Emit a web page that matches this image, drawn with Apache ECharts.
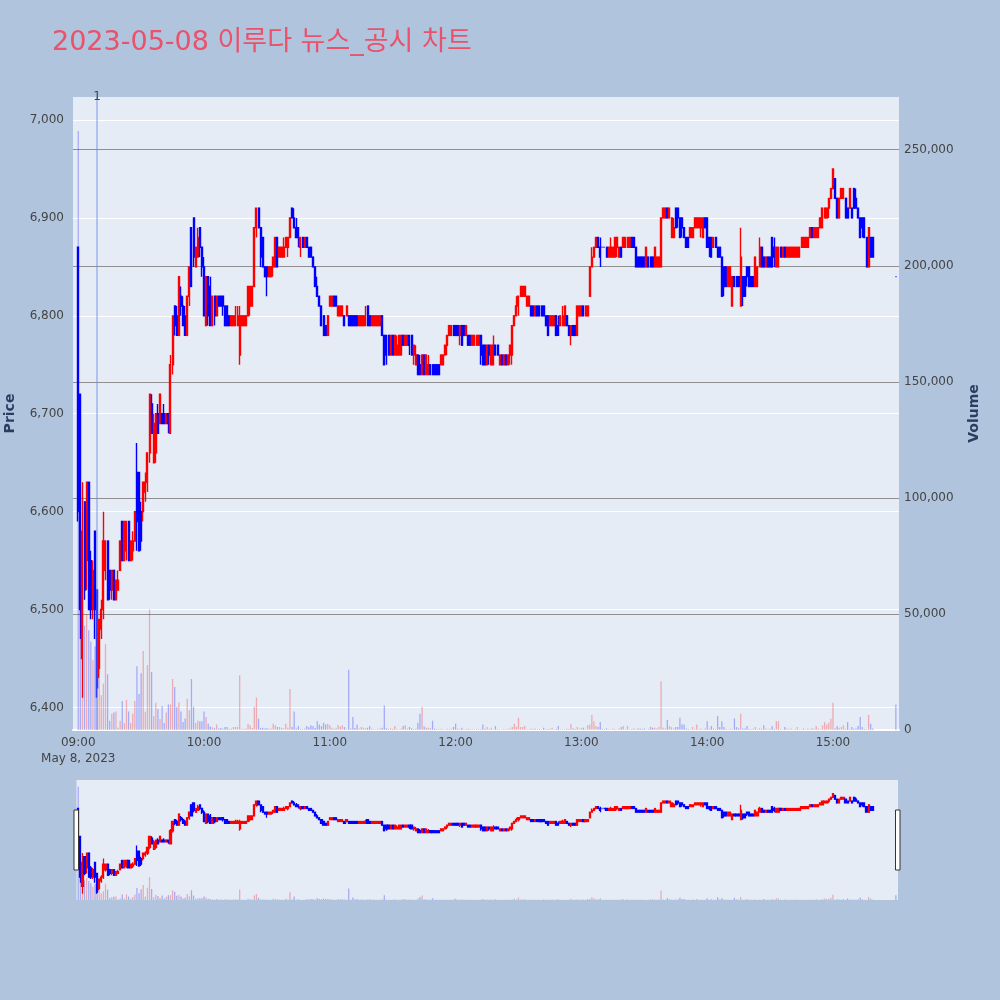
<!DOCTYPE html>
<html>
<head>
<meta charset="utf-8">
<script src="https://cdn.jsdelivr.net/npm/echarts/dist/echarts.min.js"></script>
<style>
html,body{margin:0;padding:0;background:#b0c4de;}
#chart{width:1000px;height:1000px;}
</style>
</head>
<body>
<div id="chart"></div>
<script>
// ---- DATA (1-minute candles, [open, close, low, high]) ----
const titleText = '2023-05-08 이루다 뉴스_공시 차트';
const dateLabel = 'May 8, 2023';
const newsTimes = ['09:09'];
const newsLabels = ['1'];

const ohlc09 = [
 [6870,6600,6590,6870],[6720,6500,6470,6720],[6450,6580,6410,6630],[6610,6520,6510,6610],[6550,6630,6520,6630],
 [6630,6500,6500,6630],[6550,6500,6490,6560],[6500,6540,6490,6550],[6580,6500,6470,6580],[6520,6420,6410,6520],
 [6440,6490,6430,6490],[6480,6500,6470,6510],[6500,6570,6490,6600],[6540,6570,6530,6570],[6570,6510,6510,6570],
 [6540,6520,6510,6540],[6520,6540,6510,6540],[6540,6510,6510,6540],[6510,6530,6510,6530],[6520,6530,6520,6540],
 [6540,6570,6540,6570],[6590,6550,6550,6590],[6550,6590,6550,6590],[6560,6590,6550,6590],[6590,6550,6550,6590],
 [6550,6570,6550,6570],[6560,6570,6550,6580],[6570,6600,6570,6600],[6640,6590,6560,6670],[6640,6560,6560,6640],
 [6600,6570,6560,6610],[6600,6630,6590,6630],[6620,6630,6610,6640],[6630,6660,6620,6660],[6660,6720,6650,6720],
 [6710,6680,6680,6720],[6650,6690,6650,6700],[6660,6700,6650,6700],[6700,6680,6680,6710],[6690,6720,6690,6720],
 [6700,6690,6690,6700],[6700,6690,6690,6710],[6690,6700,6690,6700],[6700,6690,6680,6700],[6680,6750,6680,6760],
 [6750,6800,6740,6800],[6810,6790,6780,6810],[6800,6780,6780,6810],[6780,6840,6780,6840],[6820,6810,6800,6830],
 [6810,6790,6790,6820],[6800,6780,6780,6810],[6780,6820,6780,6820],[6820,6850,6810,6850],[6890,6830,6830,6890],
 [6900,6860,6850,6900],[6850,6870,6850,6870],[6860,6880,6860,6890],[6890,6870,6860,6890],[6870,6850,6840,6870]
];
const ohlc10 = [
 [6850,6800,6800,6860],[6790,6840,6790,6840],[6840,6800,6790,6840],[6830,6790,6790,6840],[6790,6820,6790,6820],
 [6820,6800,6790,6820],[6800,6820,6800,6820],[6820,6810,6810,6820],[6820,6810,6810,6820],[6820,6810,6800,6820],
 [6810,6790,6790,6810],[6810,6790,6790,6810],[6800,6790,6790,6800],[6790,6800,6790,6800],[6790,6800,6790,6800],
 [6790,6800,6790,6810],[6790,6800,6790,6810],[6760,6800,6750,6810],[6790,6800,6790,6800],[6790,6800,6790,6800],
 [6790,6800,6790,6800],[6800,6830,6800,6830],[6810,6830,6800,6830],[6810,6830,6810,6830],[6830,6890,6830,6890],
 [6890,6910,6880,6910],[6910,6890,6890,6910],[6890,6860,6850,6890],[6880,6850,6850,6880],[6850,6840,6840,6850],
 [6850,6840,6820,6850],[6840,6850,6840,6850],[6840,6850,6840,6850],[6850,6860,6840,6860],[6850,6880,6850,6880],
 [6880,6850,6850,6880],[6860,6870,6860,6870],[6860,6870,6860,6870],[6860,6870,6860,6880],[6870,6880,6870,6880],
 [6870,6880,6860,6880],[6880,6900,6880,6900],[6910,6900,6900,6910],[6900,6890,6890,6910],[6890,6880,6880,6900],
 [6890,6880,6870,6890],[6870,6880,6860,6880],[6880,6870,6870,6880],[6870,6880,6870,6880],[6880,6870,6870,6880],
 [6870,6860,6860,6870],[6870,6860,6860,6870],[6860,6850,6850,6860],[6850,6830,6830,6850],[6830,6820,6820,6840],
 [6820,6810,6810,6820],[6810,6790,6790,6810],[6800,6780,6780,6800],[6790,6780,6780,6790],[6780,6800,6780,6800]
];
const ohlc11 = [
 [6810,6820,6810,6820],[6810,6820,6810,6820],[6820,6810,6810,6820],[6820,6810,6810,6820],[6800,6810,6800,6810],
 [6800,6810,6800,6810],[6800,6810,6800,6810],[6800,6790,6790,6800],[6800,6810,6800,6810],[6800,6790,6790,6800],
 [6800,6790,6790,6800],[6800,6790,6790,6800],[6800,6790,6790,6800],[6800,6790,6790,6800],[6790,6800,6790,6800],
 [6790,6800,6790,6800],[6790,6800,6790,6800],[6790,6800,6790,6810],[6810,6790,6790,6810],[6800,6790,6790,6800],
 [6790,6800,6790,6800],[6790,6800,6790,6800],[6790,6800,6790,6800],[6790,6800,6790,6800],[6790,6800,6790,6800],
 [6800,6780,6780,6800],[6780,6750,6750,6780],[6780,6760,6750,6780],[6780,6760,6760,6780],[6760,6780,6760,6780],
 [6780,6760,6760,6780],[6760,6780,6760,6780],[6760,6770,6760,6780],[6760,6780,6760,6780],[6760,6780,6760,6780],
 [6780,6770,6770,6780],[6770,6780,6770,6780],[6770,6780,6770,6780],[6780,6770,6760,6780],[6780,6760,6760,6780],
 [6760,6770,6750,6770],[6750,6760,6750,6770],[6760,6740,6740,6760],[6750,6740,6740,6760],[6740,6760,6740,6760],
 [6760,6740,6740,6760],[6740,6760,6740,6760],[6740,6750,6740,6760],[6750,6740,6740,6750],[6750,6740,6740,6750],
 [6750,6740,6740,6750],[6750,6740,6740,6750],[6750,6740,6740,6750],[6750,6760,6750,6760],[6750,6760,6750,6760],
 [6760,6770,6760,6770],[6770,6780,6760,6780],[6780,6790,6780,6790],[6780,6790,6780,6790],[6790,6780,6780,6790]
];
const ohlc12 = [
 [6790,6780,6780,6790],[6790,6780,6780,6790],[6780,6790,6770,6790],[6790,6770,6770,6790],[6790,6780,6780,6790],
 [6780,6790,6780,6790],[6780,6770,6770,6780],[6780,6770,6770,6780],[6770,6780,6770,6780],[6770,6780,6770,6780],
 [6770,6780,6770,6780],[6770,6780,6770,6780],[6780,6760,6750,6780],[6770,6750,6750,6770],[6770,6750,6750,6770],
 [6750,6770,6750,6770],[6770,6760,6750,6770],[6750,6770,6750,6770],[6750,6770,6750,6780],[6770,6760,6760,6770],
 [6770,6760,6760,6770],[6750,6760,6750,6760],[6760,6750,6750,6760],[6750,6760,6750,6760],[6760,6750,6750,6760],
 [6750,6760,6750,6760],[6760,6770,6750,6770],[6760,6790,6750,6790],[6790,6800,6790,6800],[6800,6810,6800,6820],
 [6810,6820,6800,6820],[6820,6830,6820,6830],[6820,6830,6820,6830],[6820,6830,6820,6830],[6810,6820,6810,6820],
 [6810,6820,6810,6820],[6810,6800,6800,6810],[6810,6800,6800,6810],[6800,6810,6800,6810],[6810,6800,6800,6810],
 [6810,6800,6800,6810],[6810,6800,6800,6810],[6810,6800,6800,6810],[6800,6790,6790,6800],[6800,6780,6780,6800],
 [6790,6800,6790,6800],[6790,6800,6790,6800],[6790,6800,6790,6800],[6800,6780,6780,6800],[6790,6780,6780,6800],
 [6790,6800,6790,6800],[6790,6800,6790,6810],[6790,6810,6790,6810],[6800,6790,6790,6800],[6790,6780,6780,6790],
 [6780,6790,6770,6790],[6790,6780,6780,6790],[6790,6780,6780,6790],[6780,6810,6780,6810],[6800,6810,6800,6810]
];
const ohlc13 = [
 [6800,6810,6800,6810],[6810,6800,6800,6810],[6800,6810,6800,6810],[6800,6810,6800,6810],[6820,6850,6820,6850],
 [6850,6860,6850,6870],[6860,6870,6860,6870],[6870,6880,6870,6880],[6880,6870,6870,6880],[6870,6860,6850,6880],
 [6870,6870,6870,6870],[6870,6870,6870,6870],[6870,6860,6860,6870],[6860,6870,6860,6870],[6860,6870,6860,6880],
 [6860,6870,6860,6870],[6860,6880,6860,6880],[6870,6880,6860,6880],[6860,6870,6860,6870],[6870,6860,6860,6870],
 [6870,6880,6870,6880],[6870,6880,6870,6880],[6870,6880,6870,6880],[6870,6880,6870,6880],[6880,6870,6870,6880],
 [6880,6870,6870,6880],[6870,6850,6850,6870],[6860,6850,6850,6860],[6860,6850,6850,6860],[6860,6850,6850,6860],
 [6860,6850,6850,6860],[6850,6870,6850,6870],[6860,6850,6850,6860],[6860,6850,6850,6860],[6860,6850,6850,6860],
 [6850,6870,6850,6870],[6850,6860,6850,6860],[6850,6860,6850,6860],[6850,6900,6850,6900],[6900,6910,6900,6910],
 [6900,6910,6900,6910],[6910,6900,6900,6910],[6900,6910,6900,6910],[6880,6900,6880,6900],[6880,6890,6880,6900],
 [6910,6890,6890,6910],[6910,6900,6890,6910],[6900,6880,6880,6900],[6900,6890,6880,6900],[6890,6880,6880,6890],
 [6880,6870,6870,6880],[6880,6870,6870,6880],[6880,6890,6880,6890],[6880,6890,6880,6890],[6890,6900,6890,6900],
 [6890,6900,6890,6900],[6890,6900,6890,6900],[6890,6900,6880,6900],[6880,6900,6880,6900],[6900,6890,6890,6900]
];
const ohlc14 = [
 [6900,6870,6870,6900],[6880,6870,6860,6880],[6880,6860,6860,6880],[6870,6880,6870,6880],[6880,6870,6870,6880],
 [6870,6860,6860,6870],[6870,6860,6860,6870],[6860,6820,6820,6860],[6850,6830,6820,6850],[6850,6830,6830,6850],
 [6830,6850,6830,6850],[6830,6850,6830,6850],[6810,6840,6810,6840],[6840,6830,6830,6840],[6840,6830,6830,6840],
 [6840,6830,6830,6840],[6810,6860,6810,6890],[6840,6820,6810,6840],[6840,6820,6820,6840],[6850,6840,6830,6850],
 [6850,6830,6830,6850],[6840,6830,6830,6840],[6840,6830,6830,6840],[6830,6860,6830,6860],[6830,6850,6830,6850],
 [6850,6870,6850,6880],[6870,6850,6850,6870],[6860,6850,6850,6860],[6850,6860,6850,6860],[6860,6850,6850,6860],
 [6860,6850,6850,6860],[6880,6850,6850,6880],[6870,6860,6850,6880],[6850,6870,6850,6870],[6850,6870,6850,6870],
 [6870,6860,6860,6870],[6860,6870,6860,6870],[6870,6860,6860,6870],[6860,6870,6860,6870],[6860,6870,6860,6870],
 [6860,6870,6860,6870],[6860,6870,6860,6870],[6860,6870,6860,6870],[6860,6870,6860,6870],[6860,6870,6860,6870],
 [6870,6880,6870,6880],[6870,6880,6870,6880],[6870,6880,6870,6880],[6870,6880,6870,6880],[6880,6890,6880,6890],
 [6890,6880,6880,6890],[6880,6890,6880,6890],[6880,6890,6880,6890],[6880,6890,6880,6890],[6890,6900,6890,6900],
 [6890,6910,6890,6910],[6900,6910,6900,6910],[6900,6910,6900,6910],[6910,6920,6900,6920],[6920,6930,6920,6930]
];
const ohlc15 = [
 [6930,6950,6930,6950],[6940,6920,6920,6940],[6920,6900,6900,6920],[6900,6920,6900,6920],[6920,6930,6920,6930],
 [6920,6930,6920,6930],[6920,6900,6900,6920],[6910,6900,6900,6910],[6910,6930,6910,6930],[6910,6900,6900,6910],
 [6930,6910,6910,6930],[6920,6910,6910,6930],[6910,6900,6900,6910],[6900,6880,6880,6900],[6900,6890,6880,6900],
 [6900,6880,6880,6900],[6880,6850,6850,6880],[6850,6890,6850,6890],[6880,6860,6860,6880],[6880,6860,6860,6880],
 null,null,null,null,null,null,null,null,null,null,
 [6840,6840,6840,6840]
];

const vol09 = [258000,70000,57000,45000,50000,43000,38000,30000,36000,25000,
 30000,15000,20000,37000,24000,4000,7000,7500,8000,1000,
 4000,12500,3000,13000,8000,3000,7000,12500,27500,15500,
 24500,34000,7900,28000,52000,25000,6000,11700,9000,4700,
 10300,3000,7500,11000,11000,22000,18500,9900,12000,8000,
 3500,5000,13500,8500,22000,10000,3000,4000,3800,3800];
const vol10 = [8000,5600,2700,1500,1200,800,2400,600,900,500,
 1300,1300,400,700,1300,1300,1300,23600,500,400,
 600,2700,2000,900,10000,14000,4900,800,1000,700,
 900,500,600,2700,2000,1300,1300,900,600,2700,
 1000,17700,1300,8000,600,1700,500,400,600,1700,
 1200,2000,1700,900,3800,2400,1700,3100,2400,2700];
const vol11 = [2000,1000,500,600,2000,1500,2000,1300,400,26000,
 700,5600,900,2400,600,1300,1000,700,1000,1700,
 500,400,300,500,600,1000,10600,800,500,700,
 400,1700,500,300,600,1700,2000,600,1300,700,
 400,500,3100,7000,10000,1500,1000,1000,700,4000,
 600,400,300,500,400,300,500,400,600,1300];
const vol12 = [2700,500,400,1000,300,400,500,300,400,300,
 500,400,300,2400,500,1300,400,1000,300,1700,
 400,300,200,400,300,500,700,1300,2700,1500,
 5300,1300,1300,1700,400,300,500,400,700,300,
 400,300,1000,300,400,500,1000,300,400,1700,
 300,400,300,500,400,2700,700,400,1300,500];
const vol13 = [1000,1000,400,2000,2400,6500,3800,1700,1300,3400,
 500,300,700,400,300,700,400,300,700,1300,
 1700,400,1700,300,400,700,300,700,700,400,
 700,300,400,1300,1000,1000,600,1300,21000,1000,
 600,4300,1700,1300,600,1300,1300,5300,2400,2400,
 700,400,300,1300,500,2400,400,700,300,500];
const vol14 = [3800,500,1700,700,400,6000,1300,3800,1300,400,
 300,500,400,5000,1300,700,7000,700,700,1700,
 400,300,500,1300,400,700,400,2000,700,300,
 500,1700,400,3800,3800,400,300,1300,700,400,
 700,300,400,1300,300,400,700,300,700,400,
 700,500,1700,700,400,2000,3400,2400,3100,4900];
const vol15 = [11700,600,1700,1000,1300,2000,500,3400,400,1300,
 500,700,1700,5600,1300,400,300,6500,2700,700,
 null,null,null,null,null,null,null,null,null,null,
 11000];

const priceTickStep = 100;
const volumeTickStep = 50000;
const priceRange = [6377, 7023.5];
const volumeRange = [0, 272700];

// ---- BUILD ----
const upColor = '#ff0000', downColor = '#0000ff';
const volUp = 'rgba(255,0,0,0.28)', volDown = 'rgba(0,0,255,0.28)';
const pad = n => String(n).padStart(2, '0');
const hourBlocks = [ohlc09, ohlc10, ohlc11, ohlc12, ohlc13, ohlc14, ohlc15];
const volBlocks = [vol09, vol10, vol11, vol12, vol13, vol14, vol15];

const cats = ['08:58', '08:59'];
const kData = ['-', '-'];
const vData = ['-', '-'];
hourBlocks.forEach((block, h) => {
  block.forEach((row, i) => {
    cats.push(pad(9 + h) + ':' + pad(i));
    kData.push(row ? row : '-');
    const v = volBlocks[h][i];
    if (v == null || !row) vData.push('-');
    else vData.push({ value: v, itemStyle: { color: row[1] > row[0] ? volUp : volDown } });
  });
});
cats.push('15:31'); kData.push('-'); vData.push('-');

const fontFam = "'DejaVu Sans', 'Noto Sans CJK KR', sans-serif";
const fmt = v => Math.round(v).toLocaleString('en-US');

const chart = echarts.init(document.getElementById('chart'), null, { renderer: 'canvas' });
chart.setOption({
  backgroundColor: '#b0c4de',
  animation: false,
  title: {
    text: titleText, left: 47, top: 24,
    textStyle: { color: '#e9526a', fontSize: 27, fontWeight: 'normal', fontFamily: fontFam }
  },
  grid: [
    { left: 73, right: 101, top: 97, height: 633, show: true, backgroundColor: '#e5ecf6', borderWidth: 0, borderColor: 'transparent', containLabel: false, outerBoundsMode: 'none' },
    { left: 73, right: 101, top: 780, height: 120, show: false, containLabel: false, outerBoundsMode: 'none' }
  ],
  xAxis: [
    {
      type: 'category', gridIndex: 0, data: cats, boundaryGap: true,
      axisTick: { show: false },
      axisLine: { show: true, lineStyle: { color: '#ffffff', width: 2 } },
      splitLine: { show: false },
      axisLabel: {
        interval: (idx, val) => /^(09|1[0-5]):00$/.test(val),
        formatter: val => val === '09:00' ? val + '\n' + dateLabel : val,
        color: '#444', fontSize: 12, fontFamily: fontFam, margin: 5, lineHeight: 16
      }
    },
    { type: 'category', gridIndex: 1, data: cats, boundaryGap: true, show: false }
  ],
  yAxis: [
    {
      type: 'value', gridIndex: 0, position: 'left', min: priceRange[0], max: priceRange[1], splitNumber: 6,
      name: 'Price', nameLocation: 'middle', nameGap: 56,
      nameTextStyle: { color: '#2a3f5f', fontSize: 14, fontWeight: 'bold', fontFamily: fontFam },
      axisLine: { show: false }, axisTick: { show: false },
      axisLabel: {
        formatter: v => (Math.abs(v % priceTickStep) < 1e-6 ? fmt(v) : ''),
        showMinLabel: false, showMaxLabel: false,
        color: '#444', fontSize: 12, fontFamily: fontFam, margin: 9
      },
      splitLine: { show: true, showMinLine: false, showMaxLine: false, lineStyle: { color: '#ffffff', width: 1 } }
    },
    {
      type: 'value', gridIndex: 0, position: 'right', min: volumeRange[0], max: volumeRange[1], interval: volumeTickStep,
      name: 'Volume', nameLocation: 'middle', nameGap: 68,
      nameTextStyle: { color: '#2a3f5f', fontSize: 14, fontWeight: 'bold', fontFamily: fontFam },
      axisLine: { show: false }, axisTick: { show: false },
      axisLabel: {
        formatter: v => (v % volumeTickStep === 0 ? fmt(v) : ''),
        showMaxLabel: false,
        color: '#444', fontSize: 12, fontFamily: fontFam, margin: 5
      },
      splitLine: { show: true, showMinLine: false, showMaxLine: false, lineStyle: { color: '#8f8f8f', width: 1 } }
    },
    { type: 'value', gridIndex: 1, min: priceRange[0], max: priceRange[1], show: false, splitLine: { show: false } },
    { type: 'value', gridIndex: 1, min: volumeRange[0], max: volumeRange[1], show: false, splitLine: { show: false } }
  ],
  series: [
    { type: 'bar', xAxisIndex: 0, yAxisIndex: 1, data: vData, barWidth: '62%', z: 1, silent: true },
    {
      type: 'candlestick', xAxisIndex: 0, yAxisIndex: 0, data: kData, barWidth: '72%', z: 3, silent: true,
      itemStyle: { color: upColor, color0: downColor, borderColor: upColor, borderColor0: downColor, borderColorDoji: downColor, borderWidth: 1.4 },
      markLine: {
        silent: true, symbol: ['none', 'none'], animation: false,
        lineStyle: { color: 'rgba(110,140,235,0.45)', width: 2, type: 'solid' },
        label: { show: true, position: 'end', formatter: newsLabels[0], color: '#444', fontSize: 12, fontFamily: fontFam, distance: -6 },
        data: newsTimes.map(t => ({ xAxis: t }))
      }
    },
    { type: 'bar', xAxisIndex: 1, yAxisIndex: 3, data: vData, barWidth: '62%', z: 1, silent: true },
    {
      type: 'candlestick', xAxisIndex: 1, yAxisIndex: 2, data: kData, barWidth: '80%', z: 3, silent: true,
      itemStyle: { color: upColor, color0: downColor, borderColor: upColor, borderColor0: downColor, borderColorDoji: downColor, borderWidth: 1.3 }
    }
  ],
  graphic: [
    { type: 'rect', z: -10, silent: true, shape: { x: 76.5, y: 780, width: 821.5, height: 120 }, style: { fill: '#e5ecf6' } },
    { type: 'rect', z: 100, silent: true, shape: { x: 74, y: 810, width: 4.5, height: 60 }, style: { fill: '#ffffff', stroke: '#333', lineWidth: 1 } },
    { type: 'rect', z: 100, silent: true, shape: { x: 895.5, y: 810, width: 4.5, height: 60 }, style: { fill: '#ffffff', stroke: '#333', lineWidth: 1 } }
  ]
});
</script>
</body>
</html>
